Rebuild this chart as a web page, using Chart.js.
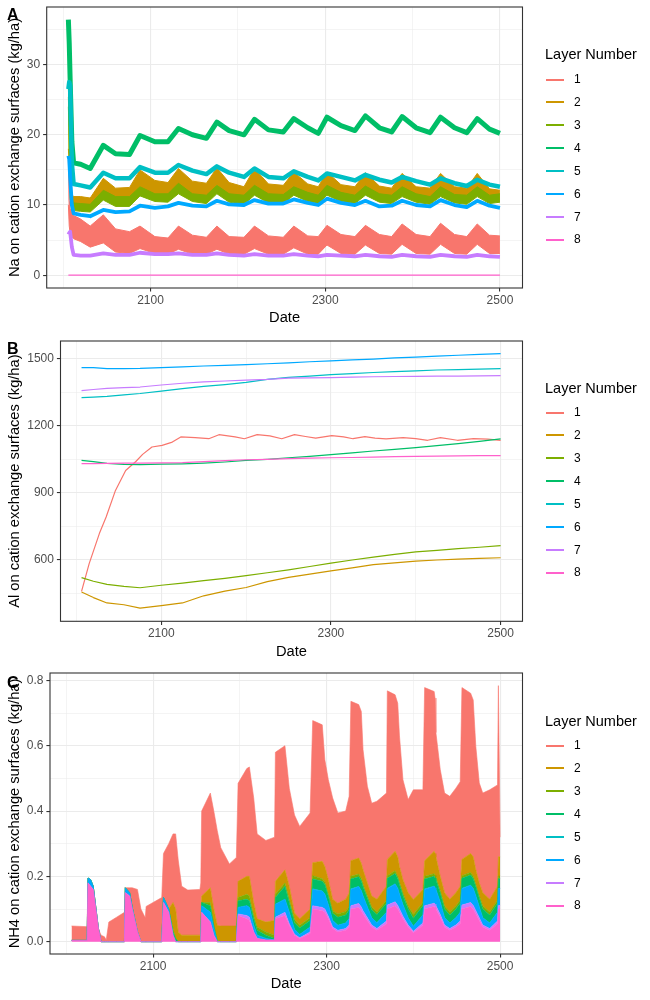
<!DOCTYPE html>
<html>
<head>
<meta charset="utf-8">
<title>Cation exchange surfaces by layer</title>
<script src="https://cdn.jsdelivr.net/npm/chart.js@4.4.1/dist/chart.umd.min.js"></script>
<style>
html,body{margin:0;padding:0;background:#ffffff;}
body{position:relative;width:650px;height:1000px;overflow:hidden;font-family:'Liberation Sans',Arial,Helvetica,sans-serif;}
canvas{position:absolute;left:0;}
.pl{position:absolute;left:7px;font-weight:bold;font-size:16px;line-height:16px;color:#000;}
.lt{position:absolute;left:545px;font-size:14.5px;line-height:14.5px;color:#000;white-space:nowrap;}
.lk{position:absolute;left:546px;width:18px;height:1.5px;}
.li{position:absolute;left:574px;font-size:12px;line-height:12px;color:#000;}
</style>
</head>
<body>
<canvas id="cA"></canvas>
<canvas id="cB"></canvas>
<canvas id="cC"></canvas>
<div id="overlay"></div>
<script>
// ---------------- categories / labels ----------------
const layerNames = ['1', '2', '3', '4', '5', '6', '7', '8'];
const layerColors = ['#F8766D', '#CD9600', '#7CAE00', '#00BE67', '#00BFC4', '#00A9FF', '#C77CFF', '#FF61CC'];
const xBreaks = [2000, 2100, 2200, 2300, 2400, 2500];
const xTickLabels = [2100, 2300, 2500];
const yBreaksA = [0, 5, 10, 15, 20, 25, 30, 35];
const yTickLabelsA = [0, 10, 20, 30];
const yBreaksB = [450, 600, 750, 900, 1050, 1200, 1350, 1500];
const yTickLabelsB = [600, 900, 1200, 1500];
const yBreaksC = [0.0, 0.1, 0.2, 0.3, 0.4, 0.5, 0.6, 0.7, 0.8];
const yTickLabelsC = [0.0, 0.2, 0.4, 0.6, 0.8];
const panelLetters = ['A', 'B', 'C'];
const yTitles = ['Na on cation exchange surfaces (kg/ha)', 'Al on cation exchange surfaces (kg/ha)', 'NH4 on cation exchange surfaces (kg/ha)'];
const xTitle = 'Date';
const legendTitle = 'Layer Number';

// ---------------- Panel A: Na (noisy bands: low / high envelopes) ----------------
const yearsA = [2006, 2007, 2008, 2010, 2012, 2020, 2031, 2046, 2060, 2076, 2088, 2105, 2120, 2132, 2148, 2164, 2176, 2190, 2207, 2219, 2235, 2252, 2264, 2280, 2292, 2302, 2318, 2334, 2346, 2362, 2376, 2388, 2404, 2420, 2432, 2448, 2462, 2474, 2488, 2500];
const naLo1 = [10, 7, 6, 5.5, 5.2, 4.8, 4.0, 4.6, 3.3, 3.1, 3.8, 3.1, 3.0, 3.7, 3.0, 3.0, 3.7, 3.0, 3.0, 3.8, 3.0, 3.0, 3.9, 3.0, 3.0, 4.3, 3.1, 3.0, 4.3, 3.1, 3.0, 4.4, 3.1, 3.0, 4.4, 3.1, 3.0, 4.4, 3.1, 3.1];
const naHi1 = [16.5, 10.7, 9.5, 9, 8.5, 8.0, 7.0, 8.6, 6.6, 6.2, 7.0, 5.5, 5.3, 7.0, 5.7, 5.4, 7.0, 5.5, 5.4, 7.0, 5.6, 5.4, 7.0, 5.6, 5.5, 7.1, 5.8, 5.5, 7.1, 5.8, 5.5, 7.3, 5.8, 5.5, 7.4, 5.8, 5.5, 7.3, 5.7, 5.6];
const naLo2 = [18, 16, 12, 10, 9.6, 9.7, 9.7, 11.6, 10.7, 10.9, 12.6, 11.4, 11.3, 12.6, 11.4, 11.2, 12.8, 11.3, 10.9, 12.6, 11.3, 11.2, 12.2, 11.0, 10.7, 12.4, 11.0, 10.7, 12.3, 10.9, 10.5, 12.1, 10.8, 10.5, 12.1, 10.8, 10.5, 12.1, 10.6, 10.5];
const naHi2 = [25.4, 20, 15, 11.5, 11.2, 11.2, 11.0, 13.8, 12.4, 12.5, 15.0, 13.5, 13.2, 15.2, 13.4, 13.1, 15.3, 13.2, 12.6, 15.2, 13.0, 12.8, 14.7, 13.0, 12.6, 14.7, 12.9, 12.6, 14.6, 12.7, 12.4, 14.5, 12.6, 12.4, 14.5, 12.6, 12.4, 14.5, 12.3, 12.1];
const naLo3 = [17, 15, 11, 9.5, 9.2, 9.1, 9.0, 10.7, 9.8, 9.8, 11.3, 10.5, 10.4, 11.6, 10.5, 10.2, 11.6, 10.4, 10.1, 11.4, 10.3, 10.2, 11.4, 10.5, 10.2, 11.4, 10.5, 10.2, 11.4, 10.4, 10.2, 11.2, 10.4, 10.1, 11.2, 10.3, 10.1, 11.2, 10.2, 10.4];
const naHi3 = [24, 19, 13, 11, 10.3, 10.2, 10.1, 12.1, 11.2, 11.2, 12.6, 11.6, 11.6, 13.1, 11.6, 11.4, 12.8, 11.6, 11.4, 12.8, 11.6, 11.5, 12.6, 11.8, 11.4, 12.8, 11.8, 11.4, 12.7, 11.6, 11.4, 12.6, 11.6, 11.2, 12.6, 11.5, 11.4, 12.6, 11.4, 11.6];
const na4 = [36.4, 33, 28, 19, 16, 15.8, 15.2, 18.5, 17.3, 17.2, 19.9, 19.0, 19.0, 20.9, 20.0, 19.5, 21.8, 20.6, 20.0, 22.2, 20.7, 20.4, 22.3, 21.0, 20.2, 22.5, 21.3, 20.6, 22.7, 21.0, 20.4, 22.6, 21.0, 20.3, 22.5, 21.0, 20.3, 22.3, 20.8, 20.2];
const na5 = [26.5, 27.5, 27, 16, 13, 12.8, 12.5, 14.6, 13.8, 13.8, 15.4, 14.6, 14.6, 15.7, 14.9, 14.4, 15.5, 14.6, 14.0, 15.2, 14.0, 13.8, 14.8, 14.0, 13.5, 14.5, 14.0, 13.5, 14.3, 13.6, 13.2, 14.0, 13.4, 12.9, 13.8, 13.1, 12.7, 13.6, 12.9, 12.6];
const na6 = [17, 16.5, 14, 10, 8.8, 8.6, 8.4, 9.3, 9.0, 9.1, 9.9, 9.6, 9.8, 10.3, 9.9, 9.8, 10.6, 10.1, 10.0, 10.7, 10.2, 10.2, 10.8, 10.3, 10.0, 10.9, 10.3, 10.0, 10.6, 9.8, 9.9, 10.6, 10.0, 9.8, 10.7, 10.0, 9.7, 10.6, 9.9, 9.6];
const na7 = [5.8, 6.0, 6.2, 4.0, 2.9, 2.8, 2.8, 3.1, 2.9, 2.9, 3.2, 3.0, 3.0, 3.1, 2.9, 2.9, 3.1, 2.9, 2.8, 3.0, 2.8, 2.8, 3.0, 2.8, 2.7, 2.9, 2.8, 2.7, 2.9, 2.7, 2.6, 2.9, 2.7, 2.6, 2.9, 2.7, 2.6, 2.9, 2.7, 2.6];
const yearsA8 = [2006, 2500];
const na8 = [0, 0];

// ---------------- Panel B: Al ----------------
const alYears1 = [2006, 2015, 2027, 2035, 2046, 2058, 2070, 2078, 2089, 2101, 2113, 2123, 2140, 2156, 2168, 2187, 2198, 2213, 2228, 2242, 2257, 2270, 2282, 2301, 2315, 2326, 2340, 2352, 2365, 2385, 2400, 2414, 2429, 2449, 2468, 2485, 2500];
const al1 = [460, 584, 718, 792, 911, 1000, 1040, 1072, 1105, 1112, 1127, 1150, 1147, 1142, 1160, 1150, 1142, 1160, 1155, 1142, 1160, 1152, 1145, 1156, 1150, 1142, 1151, 1145, 1141, 1147, 1142, 1135, 1147, 1135, 1142, 1140, 1135];
const alYears = [2006, 2020, 2036, 2056, 2075, 2100, 2125, 2150, 2175, 2200, 2225, 2250, 2275, 2300, 2325, 2350, 2375, 2400, 2425, 2450, 2475, 2500];
const al2 = [457, 432, 408, 400, 385, 396, 408, 440, 461, 477, 503, 522, 537, 551, 565, 579, 587, 595, 600, 604, 607, 610];
const al3 = [521, 505, 491, 482, 476, 487, 497, 508, 518, 530, 543, 556, 571, 586, 600, 613, 625, 636, 643, 651, 657, 664];
const al4 = [1045, 1040, 1032, 1027, 1026, 1028, 1030, 1033, 1038, 1045, 1050, 1057, 1063, 1071, 1079, 1087, 1094, 1102, 1111, 1120, 1130, 1141];
const al5 = [1326, 1328, 1331, 1338, 1344, 1355, 1366, 1376, 1384, 1394, 1407, 1416, 1422, 1428, 1433, 1438, 1442, 1445, 1449, 1451, 1453, 1455];
const al6 = [1460, 1460, 1455, 1455, 1456, 1460, 1463, 1467, 1470, 1473, 1477, 1481, 1486, 1490, 1494, 1498, 1503, 1507, 1511, 1515, 1519, 1522];
const al7 = [1357, 1362, 1367, 1370, 1373, 1382, 1390, 1396, 1400, 1404, 1407, 1413, 1414, 1415, 1417, 1419, 1420, 1421, 1422, 1422, 1423, 1424];
const al8 = [1031, 1031, 1032, 1033, 1033, 1034, 1035, 1040, 1044, 1048, 1050, 1053, 1055, 1057, 1058, 1060, 1062, 1063, 1064, 1065, 1066, 1066];

// ---------------- Panel C: NH4 (stacked areas) ----------------
const yearsC = [2006, 2024, 2025, 2028, 2031, 2034, 2037, 2040, 2044, 2046, 2049, 2058, 2067, 2068, 2073, 2076, 2082, 2086, 2091, 2092, 2110, 2112, 2118, 2123, 2126, 2129, 2133, 2140, 2154, 2155, 2156, 2166, 2170, 2174, 2178, 2188, 2196, 2198, 2208, 2211, 2216, 2220, 2230, 2240, 2241, 2252, 2257, 2263, 2269, 2281, 2284, 2295, 2298, 2302, 2307, 2313, 2322, 2326, 2328, 2337, 2340, 2342, 2347, 2352, 2358, 2369, 2370, 2379, 2382, 2384, 2388, 2394, 2400, 2411, 2413, 2424, 2425, 2426, 2431, 2436, 2442, 2449, 2454, 2456, 2466, 2469, 2472, 2476, 2480, 2488, 2497, 2498, 2500];
const nh8 = [0.004, 0.004, 0.18, 0.17, 0.16, 0.10, 0.04, 0, 0, 0, 0, 0, 0, 0.15, 0.14, 0.10, 0.03, 0, 0, 0, 0, 0.12, 0.09, 0.02, 0, 0, 0, 0, 0, 0, 0.09, 0.06, 0.02, 0, 0, 0, 0, 0.08, 0.07, 0.065, 0.03, 0.01, 0.005, 0.005, 0.07, 0.08, 0.05, 0.02, 0.01, 0.025, 0.1, 0.095, 0.09, 0.07, 0.04, 0.03, 0.035, 0.045, 0.1, 0.105, 0.095, 0.085, 0.065, 0.045, 0.035, 0.055, 0.1, 0.11, 0.1, 0.09, 0.07, 0.045, 0.027, 0.05, 0.1, 0.108, 0.105, 0.1, 0.075, 0.045, 0.035, 0.045, 0.055, 0.1, 0.108, 0.1, 0.085, 0.065, 0.045, 0.035, 0.055, 0.1, 0.1];
const nh7 = [0, 0, 0, 0, 0, 0, 0, 0, 0, 0, 0, 0, 0, 0, 0, 0, 0, 0, 0, 0, 0, 0, 0, 0, 0, 0, 0, 0, 0, 0, 0, 0, 0, 0, 0, 0, 0, 0.005, 0.01, 0.01, 0, 0, 0, 0, 0.005, 0.01, 0.005, 0.003, 0.002, 0.005, 0.01, 0.01, 0.01, 0.008, 0.005, 0.005, 0.005, 0.006, 0.01, 0.012, 0.011, 0.01, 0.008, 0.006, 0.005, 0.008, 0.012, 0.012, 0.011, 0.01, 0.008, 0.006, 0.005, 0.007, 0.01, 0.01, 0.01, 0.01, 0.008, 0.006, 0.005, 0.006, 0.008, 0.012, 0.012, 0.011, 0.01, 0.008, 0.006, 0.005, 0.008, 0.011, 0.011];
const nh6 = [0, 0, 0.015, 0.02, 0.01, 0.005, 0, 0, 0, 0, 0, 0, 0, 0.015, 0.01, 0.005, 0, 0, 0, 0, 0, 0.015, 0.01, 0, 0, 0, 0, 0, 0, 0, 0.02, 0.03, 0.02, 0, 0, 0, 0, 0.02, 0.03, 0.03, 0.02, 0.01, 0.005, 0, 0.04, 0.04, 0.035, 0.015, 0.01, 0.015, 0.05, 0.05, 0.045, 0.035, 0.02, 0.015, 0.017, 0.02, 0.05, 0.052, 0.05, 0.045, 0.033, 0.022, 0.018, 0.027, 0.05, 0.055, 0.052, 0.045, 0.035, 0.022, 0.015, 0.025, 0.05, 0.052, 0.05, 0.05, 0.038, 0.022, 0.017, 0.022, 0.027, 0.05, 0.053, 0.052, 0.045, 0.033, 0.022, 0.017, 0.027, 0.052, 0.052];
const nh5 = [0, 0, 0, 0, 0, 0, 0, 0, 0, 0, 0, 0, 0, 0, 0, 0, 0, 0, 0, 0, 0, 0, 0, 0, 0, 0, 0, 0, 0, 0, 0, 0, 0, 0, 0, 0, 0, 0, 0, 0, 0, 0, 0, 0, 0, 0, 0, 0, 0, 0, 0.002, 0, 0, 0, 0, 0, 0, 0, 0.002, 0, 0, 0, 0, 0, 0, 0, 0.002, 0, 0, 0, 0, 0, 0, 0, 0.002, 0, 0, 0, 0, 0, 0, 0, 0, 0.002, 0, 0, 0, 0, 0, 0, 0, 0, 0];
const nh4 = [0, 0, 0, 0, 0, 0, 0, 0, 0, 0, 0, 0, 0, 0, 0, 0, 0, 0, 0, 0, 0, 0, 0, 0.01, 0.01, 0, 0, 0, 0, 0, 0.01, 0.02, 0.01, 0, 0, 0, 0, 0.02, 0.02, 0.02, 0.02, 0.015, 0.01, 0.005, 0.02, 0.04, 0.03, 0.02, 0.02, 0.02, 0.03, 0.03, 0.03, 0.025, 0.022, 0.025, 0.025, 0.027, 0.03, 0.03, 0.03, 0.028, 0.027, 0.025, 0.025, 0.028, 0.03, 0.032, 0.03, 0.03, 0.028, 0.027, 0.025, 0.028, 0.03, 0.03, 0.03, 0.03, 0.028, 0.027, 0.025, 0.027, 0.028, 0.03, 0.031, 0.03, 0.028, 0.027, 0.027, 0.025, 0.028, 0.03, 0.03];
const nh3 = [0, 0, 0, 0, 0, 0, 0, 0, 0, 0, 0, 0, 0, 0, 0, 0, 0, 0, 0, 0, 0, 0, 0, 0.01, 0, 0, 0, 0, 0, 0, 0, 0.01, 0, 0.005, 0, 0, 0, 0.01, 0.015, 0.015, 0.01, 0.01, 0.01, 0.01, 0.01, 0.01, 0.01, 0.01, 0.008, 0.008, 0.01, 0.008, 0.008, 0.008, 0.008, 0.01, 0.01, 0.01, 0.008, 0.008, 0.008, 0.008, 0.008, 0.008, 0.008, 0.009, 0.008, 0.008, 0.008, 0.008, 0.008, 0.009, 0.011, 0.01, 0.008, 0.008, 0.008, 0.008, 0.008, 0.009, 0.009, 0.009, 0.009, 0.008, 0.008, 0.008, 0.008, 0.008, 0.009, 0.009, 0.009, 0.008, 0.008];
const nh2 = [0, 0, 0, 0, 0, 0, 0, 0, 0, 0, 0, 0, 0, 0, 0, 0, 0, 0, 0, 0, 0, 0, 0, 0.08, 0.09, 0.03, 0.02, 0.02, 0.02, 0.02, 0.02, 0.045, 0.05, 0.045, 0.048, 0.048, 0.048, 0.05, 0.055, 0.06, 0.04, 0.025, 0.03, 0.045, 0.04, 0.04, 0.04, 0.02, 0.02, 0.027, 0.04, 0.053, 0.047, 0.044, 0.035, 0.033, 0.038, 0.042, 0.048, 0.049, 0.046, 0.044, 0.039, 0.034, 0.039, 0.043, 0.05, 0.06, 0.059, 0.047, 0.041, 0.041, 0.046, 0.04, 0.048, 0.069, 0.067, 0.062, 0.043, 0.041, 0.039, 0.041, 0.043, 0.05, 0.058, 0.059, 0.044, 0.039, 0.041, 0.039, 0.043, 0.059, 0.059];
const nh1 = [0.044, 0.042, 0, 0, 0, 0, 0, 0.02, 0.015, 0.005, 0.06, 0.075, 0.09, 0, 0.015, 0.06, 0.13, 0.1, 0.073, 0.108, 0.135, 0.135, 0.2, 0.21, 0.23, 0.22, 0.15, 0.138, 0.14, 0.16, 0.26, 0.29, 0.30, 0.29, 0.24, 0.19, 0.21, 0.30, 0.33, 0.335, 0.32, 0.26, 0.25, 0.255, 0.395, 0.38, 0.30, 0.30, 0.283, 0.294, 0.435, 0.418, 0.327, 0.306, 0.31, 0.276, 0.27, 0.295, 0.488, 0.47, 0.465, 0.368, 0.296, 0.284, 0.30, 0.285, 0.516, 0.479, 0.47, 0.40, 0.306, 0.285, 0.336, 0.305, 0.53, 0.489, 0.476, 0.38, 0.327, 0.305, 0.315, 0.32, 0.32, 0.526, 0.491, 0.48, 0.378, 0.306, 0.305, 0.335, 0.31, 0.524, 0.06];

// ---------------- rendering ----------------
const FONT = "'Liberation Sans', Arial, Helvetica, sans-serif";
Chart.defaults.font.family = FONT;
Chart.defaults.animation = false;

const pts = (xs, ys) => xs.map((x, i) => ({x: x, y: ys[i]}));
const near = (v, list) => list.some(t => Math.abs(v - t) < 1e-6);

const frame = {
  id: 'frame',
  afterDraw(chart) {
    const {ctx, chartArea: a} = chart;
    ctx.save();
    ctx.strokeStyle = '#333333';
    ctx.lineWidth = 1.1;
    ctx.strokeRect(a.left, a.top, a.right - a.left, a.bottom - a.top);
    ctx.restore();
  }
};

const XH = 46;
function makeChart(canvasId, plot, datasets, ycfg, yTitle) {
  const top = plot.top - 16;
  const h = Math.ceil(plot.bottom + XH - top);
  const padBottom = h - (plot.bottom + XH - top);
  const cv = document.getElementById(canvasId);
  cv.width = 650; cv.height = h;
  cv.style.width = '650px'; cv.style.height = h + 'px'; cv.style.top = top + 'px';
  const gridW = (list) => (c) => (c.tick && near(c.tick.value, list)) ? 1.1 : 0.55;
  const tickC = (list) => (c) => (c.tick && near(c.tick.value, list)) ? '#333333' : 'rgba(0,0,0,0)';
  return new Chart(cv, {
    type: 'line',
    data: {datasets: datasets},
    plugins: [frame],
    options: {
      responsive: false,
      animation: false,
      layout: {padding: {left: 0, top: plot.top - top, right: 650 - plot.right, bottom: padBottom}},
      plugins: {legend: {display: false}, tooltip: {enabled: false}},
      elements: {point: {radius: 0, hoverRadius: 0}, line: {tension: 0, borderJoinStyle: 'round'}},
      scales: {
        x: {
          type: 'linear', min: 1981.2, max: 2525.8,
          afterFit: (s) => { s.height = XH; },
          afterBuildTicks: (s) => { s.ticks = xBreaks.map(v => ({value: v})); },
          ticks: {autoSkip: false, maxRotation: 0, minRotation: 0,
                  color: '#4d4d4d', font: {size: 12}, padding: 1.6,
                  callback: (v) => near(v, xTickLabels) ? String(Math.round(v)) : ''},
          grid: {color: '#ebebeb', lineWidth: gridW(xTickLabels), tickColor: tickC(xTickLabels), tickWidth: 1.1, tickLength: 3.6},
          border: {display: false},
          title: {display: true, text: xTitle, color: '#000000', font: {size: 14.67}, padding: {top: 0, bottom: XH - 30.3 - 8.8}}
        },
        y: {
          type: 'linear', min: ycfg.min, max: ycfg.max, stacked: !!ycfg.stacked,
          afterFit: (s) => { s.width = plot.left; },
          afterBuildTicks: (s) => { s.ticks = ycfg.breaks.map(v => ({value: v})); },
          ticks: {autoSkip: false, color: '#4d4d4d', font: {size: 12}, padding: 3,
                  callback: (v) => near(v, ycfg.labels) ? ycfg.fmt(v) : ''},
          grid: {color: '#ebebeb', lineWidth: gridW(ycfg.labels), tickColor: tickC(ycfg.labels), tickWidth: 1.1, tickLength: 3.6},
          border: {display: false},
          title: {display: true, text: yTitle, color: '#000000', font: {size: 14.67}, padding: {top: 6.1, bottom: 0}}
        }
      }
    }
  });
}

// Panel A datasets
const dsA = [];
function addBand(k, years, lo, hi) {
  const c = layerColors[k];
  const base = dsA.length;
  dsA.push({label: layerNames[k], data: pts(years, lo), borderColor: c, backgroundColor: c, borderWidth: 1, fill: false, order: 8 - k});
  dsA.push({label: layerNames[k], data: pts(years, hi), borderColor: c, backgroundColor: c, borderWidth: 1, fill: base, order: 8 - k});
}
function addLineA(k, years, vals, w) {
  const c = layerColors[k];
  dsA.push({label: layerNames[k], data: pts(years, vals), borderColor: c, backgroundColor: c, borderWidth: w, fill: false, order: 8 - k});
}
addBand(0, yearsA, naLo1, naHi1);
addBand(1, yearsA, naLo2, naHi2);
addBand(2, yearsA, naLo3, naHi3);
addLineA(3, yearsA, na4, 5);
addLineA(4, yearsA, na5, 4.5);
addLineA(5, yearsA, na6, 3.8);
addLineA(6, yearsA, na7, 3.8);
addLineA(7, yearsA8, na8, 1.2);

// Panel B datasets
const alSeries = [[alYears1, al1], [alYears, al2], [alYears, al3], [alYears, al4], [alYears, al5], [alYears, al6], [alYears, al7], [alYears, al8]];
const dsB = alSeries.map((s, k) => ({label: layerNames[k], data: pts(s[0], s[1]), borderColor: layerColors[k], backgroundColor: layerColors[k], borderWidth: 1.2, fill: false, order: 8 - k}));

// Panel C datasets (stack bottom = layer 8, top = layer 1)
const nhSeries = [nh1, nh2, nh3, nh4, nh5, nh6, nh7, nh8];
const dsC = [];
for (let k = 7; k >= 0; k--) {
  dsC.push({label: layerNames[k], data: pts(yearsC, nhSeries[k]), borderColor: layerColors[k], backgroundColor: layerColors[k],
            borderWidth: 0.6, fill: dsC.length === 0 ? 'origin' : '-1'});
}

const plots = [
  {left: 46.7, top: 7.3, right: 522.5, bottom: 288.3},
  {left: 60.5, top: 340.7, right: 522.5, bottom: 621},
  {left: 50, top: 673.3, right: 522.5, bottom: 954.3}
];

makeChart('cA', plots[0], dsA, {min: -1.82, max: 38.2, breaks: yBreaksA, labels: yTickLabelsA, fmt: (v) => String(Math.round(v))}, yTitles[0]);
makeChart('cB', plots[1], dsB, {min: 326, max: 1578.7, breaks: yBreaksB, labels: yTickLabelsB, fmt: (v) => String(Math.round(v))}, yTitles[1]);
makeChart('cC', plots[2], dsC, {min: -0.0377, max: 0.8227, breaks: yBreaksC, labels: yTickLabelsC, fmt: (v) => v.toFixed(1), stacked: true}, yTitles[2]);

// Overlay: panel letters and legends
const overlay = document.getElementById('overlay');
const letterTops = [7, 340.7, 674.7];
panelLetters.forEach((L, i) => {
  const d = document.createElement('div');
  d.className = 'pl'; d.textContent = L; d.style.top = letterTops[i] + 'px';
  overlay.appendChild(d);
});
const legendTitleCenters = [54, 387.8, 721];
const legendFirstItem = [79.3, 412.3, 745.3];
const legendStep = 22.85;
for (let p = 0; p < 3; p++) {
  const t = document.createElement('div');
  t.className = 'lt'; t.textContent = legendTitle; t.style.top = (legendTitleCenters[p] - 7.1) + 'px';
  overlay.appendChild(t);
  layerNames.forEach((n, k) => {
    const c = legendFirstItem[p] + k * legendStep;
    const key = document.createElement('div');
    key.className = 'lk'; key.style.top = Math.round(c - 0.75) + 'px'; key.style.background = layerColors[k];
    overlay.appendChild(key);
    const lab = document.createElement('div');
    lab.className = 'li'; lab.textContent = n; lab.style.top = (c - 5.9) + 'px';
    overlay.appendChild(lab);
  });
}
</script>
</body>
</html>
